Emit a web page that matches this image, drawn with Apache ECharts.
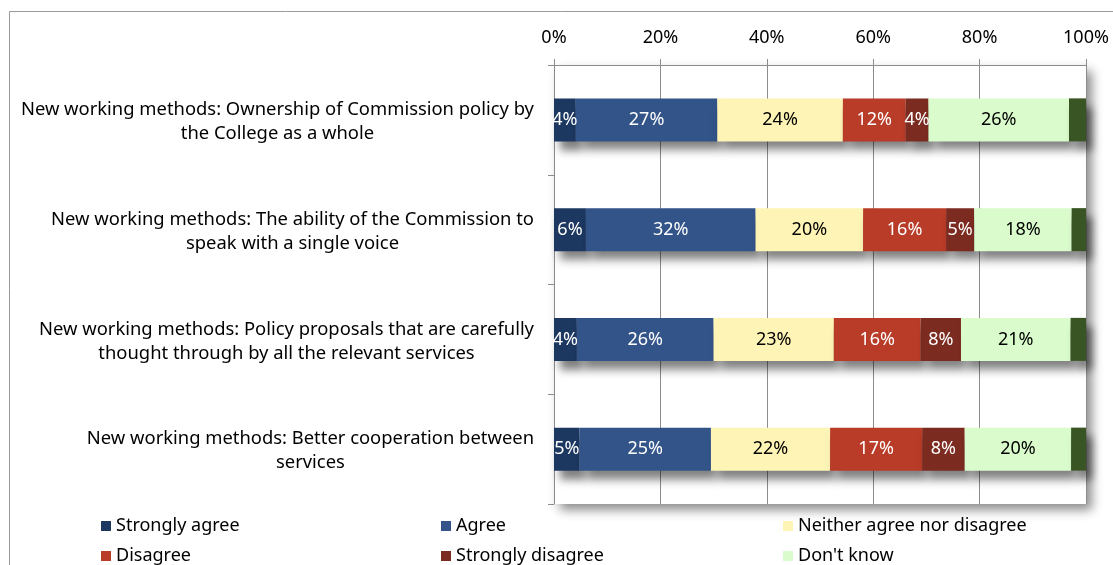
<!DOCTYPE html>
<html>
<head>
<meta charset="utf-8">
<script src="https://cdn.jsdelivr.net/npm/echarts@6/dist/echarts.min.js"></script>
<style>
html,body{margin:0;padding:0;background:#fff;}
#c{width:1113px;height:565px;}
</style>
</head>
<body>
<div id="c"></div>
<script>
const categories = [
  "New working methods: Ownership of Commission policy by\nthe College as a whole",
  "New working methods: The ability of the Commission to\nspeak with a single voice",
  "New working methods: Policy proposals that are carefully\nthought through by all the relevant services",
  "New working methods: Better cooperation between\nservices"
];
const tickLabels = ["0%", "20%", "40%", "60%", "80%", "100%"];
const seriesNames = ["Strongly agree", "Agree", "Neither agree nor disagree", "Disagree", "Strongly disagree", "Don't know", "No answer"];
const stronglyAgree    = [4.1, 6.0, 4.3, 4.8];
const agree            = [26.6, 31.9, 25.7, 24.7];
const neither          = [23.6, 20.2, 22.6, 22.4];
const disagree         = [11.8, 15.6, 16.3, 17.3];
const stronglyDisagree = [4.3, 5.3, 7.6, 8.0];
const dontKnow         = [26.4, 18.3, 20.6, 20.0];
const noAnswer         = [3.2, 2.7, 2.9, 2.8];

const values = [stronglyAgree, agree, neither, disagree, stronglyDisagree, dontKnow, noAnswer];
const colors = ["#1c3760", "#325489", "#fef4b5", "#b83c28", "#7c2b20", "#dafccc", "#3a5524"];
const labelColors = ["#fff", "#fff", "#000", "#fff", "#fff", "#000", null];

const FONT = "'Noto Sans', 'Open Sans', sans-serif";

const chart = echarts.init(document.getElementById('c'), null, {renderer: 'canvas'});

const series = values.map((d, i) => ({
  name: seriesNames[i],
  type: 'bar',
  stack: 'total',
  barWidth: 43,
  data: d,
  itemStyle: {
    color: colors[i],
    shadowColor: 'rgba(0,0,0,0.5)',
    shadowBlur: 9,
    shadowOffsetX: 6,
    shadowOffsetY: 9
  },
  label: {
    show: labelColors[i] !== null,
    position: 'inside',
    color: labelColors[i] || '#000',
    fontFamily: FONT,
    fontSize: 18,
    formatter: p => Math.round(p.value) + '%'
  },
  emphasis: {disabled: true}
}));

// legend layout: [series index, left, top]
const legendSlots = [[0, 101, 516], [1, 441, 516], [2, 783, 516], [3, 101, 546], [4, 441, 546], [5, 783, 546]];
const legends = legendSlots.map(s => ({
  left: s[1],
  top: s[2],
  icon: 'rect',
  itemWidth: 10,
  itemHeight: 10,
  textStyle: {fontFamily: FONT, fontSize: 18, color: '#000', lineHeight: 20},
  selectedMode: false,
  padding: 0,
  data: [seriesNames[s[0]]]
}));

chart.setOption({
  animation: false,
  graphic: [{
    type: 'rect',
    shape: {x: 9.5, y: 11.5, width: 1300, height: 800},
    style: {fill: 'none', stroke: '#9a9a9a', lineWidth: 1},
    z: -10
  }],
  grid: {
    left: 554, right: 27, top: 65, bottom: 61,
    show: true,
    backgroundColor: '#fff',
    borderWidth: 0,
    shadowColor: 'rgba(0,0,0,0.45)',
    shadowBlur: 10,
    shadowOffsetX: 6,
    shadowOffsetY: 6
  },
  legend: legends,
  xAxis: {
    type: 'value',
    position: 'top',
    min: 0, max: 100, interval: 20,
    axisLine: {show: true, lineStyle: {color: '#8c8c8c'}},
    axisTick: {show: true, length: 6, lineStyle: {color: '#8c8c8c'}},
    splitLine: {show: true, lineStyle: {color: '#8c8c8c', width: 1}},
    axisLabel: {
      margin: 18,
      fontFamily: FONT, fontSize: 18, color: '#000',
      formatter: v => tickLabels[Math.round(v / 20)]
    }
  },
  yAxis: {
    type: 'category',
    inverse: true,
    data: categories,
    axisLine: {show: true, lineStyle: {color: '#8c8c8c'}},
    axisTick: {show: true, length: 6, lineStyle: {color: '#8c8c8c'}},
    axisLabel: {
      margin: 20,
      padding: [4, 0, 0, 0],
      formatter: v => v.split('\n').map(s => '{c|' + s + '}').join('\n'),
      rich: {
        c: {align: 'center', fontFamily: FONT, fontSize: 18.4, color: '#000', lineHeight: 24}
      }
    }
  },
  series: series
});
</script>
</body>
</html>
